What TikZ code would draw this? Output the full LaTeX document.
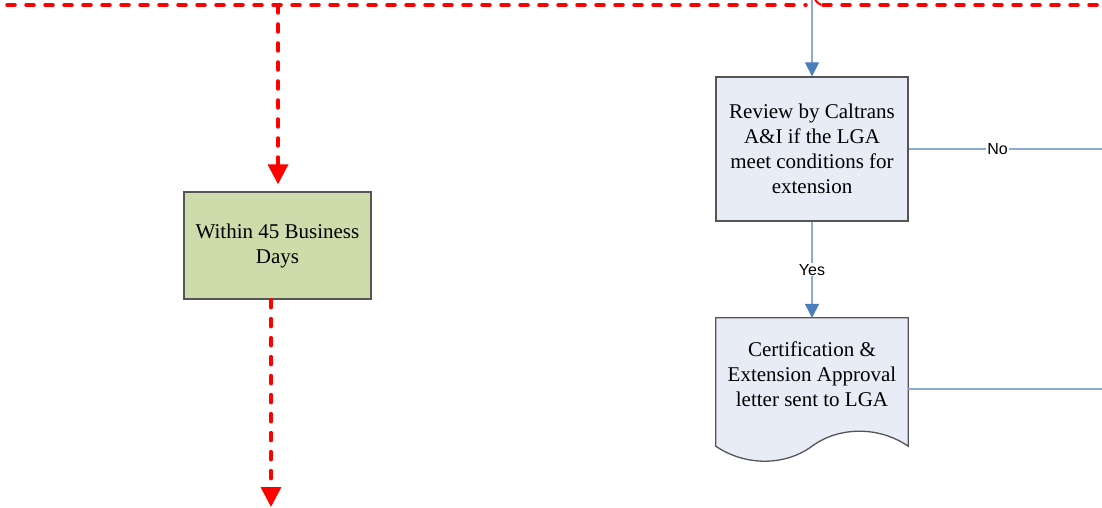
\documentclass[tikz,border=0pt]{standalone}
\usepackage{fontspec}
\setmainfont{Liberation Serif}
\newfontfamily\labelfont{Liberation Sans}
\usetikzlibrary{arrows.meta,calc}
\definecolor{redline}{RGB}{255,0,0}
\definecolor{blueline}{RGB}{140,170,215}
\definecolor{bluetip}{RGB}{74,126,187}
\definecolor{boxedge}{RGB}{85,85,85}
\definecolor{greenfill}{RGB}{205,220,170}
\definecolor{bluefill}{RGB}{231,236,247}
\tikzset{
  redflow/.style={draw=redline, line width=3.5pt, dash pattern=on 8pt off 11pt, line cap=round},
  redtip/.style={-{Triangle[length=20pt,width=20pt,color=redline,line cap=butt]}},
  blueflow/.style={draw=blueline, line width=1.3pt, -{Triangle[length=14pt,width=14pt,color=bluetip]}},
  blueplain/.style={draw=blueline, line width=1.3pt},
  procbox/.style={draw=boxedge, line width=1.3pt, align=center, inner sep=0pt,
    font=\fontsize{21}{25}\selectfont},
  flowlabel/.style={fill=white, inner sep=1pt, font=\labelfont\fontsize{16}{18}\selectfont}
}
\begin{document}
\begin{tikzpicture}[x=1pt,y=-1pt]
\useasboundingbox (0,0) rectangle (1102,508);
% boxes
\node[procbox, fill=greenfill, minimum width=187pt, minimum height=107pt] (green) at (277.5,245.5) {Within 45 Business\\Days};
\node[procbox, fill=bluefill, minimum width=192pt, minimum height=144pt] (review) at (812,149) {Review by Caltrans\\A\&I if the LGA\\meet conditions for\\extension};
\node[minimum width=192pt, minimum height=128pt, inner sep=0pt] (certbox) at (812,382) {};
\draw[draw=boxedge, line width=1.3pt, fill=bluefill]
  (certbox.north west) -- (certbox.north east) -- (certbox.south east)
  .. controls ($(certbox.south east)+(-29,-20)$) and ($(certbox.south east)+(-69,-20)$) .. (certbox.south)
  .. controls ($(certbox.south)+(-27,20)$) and ($(certbox.south)+(-67,20)$) .. (certbox.south west) -- cycle;
\node[align=center, font=\fontsize{21}{25}\selectfont] (cert) at (812,374) {Certification \&\\Extension Approval\\letter sent to LGA};
% coordinates
\coordinate (redstart) at (7,5);
\coordinate (redend) at (1102,5);
\coordinate (redbranch) at (278,5);
\coordinate (redbottom) at (271,507);
\coordinate (bluetop) at (812,0);
\coordinate (noend) at (1102,149);
\coordinate (certend) at (1102,389);
% red dashed flows
\draw[redflow] (redstart) -- (806,5);
\draw[redflow] (823,5) -- (redend);
\draw[draw=redline, line width=2pt] (815,0) .. controls (817,2) and (819,4) .. (821,5);
\draw[redflow, redtip, shorten >=7pt] (redbranch) -- (redbranch |- green.north);
\draw[redflow, redtip] ($(green.south)+(-6.5,0)$) -- (redbottom);
% blue flows
\draw[blueflow] (bluetop) -- (review.north);
\draw[blueflow] (review.south) -- node[flowlabel] {Yes} (certbox.north);
\draw[blueplain] (review.east) -- node[flowlabel, pos=0.46] {No} (noend);
\draw[blueplain] ($(certbox.east)+(0,7)$) -- (certend);
\end{tikzpicture}
\end{document}
